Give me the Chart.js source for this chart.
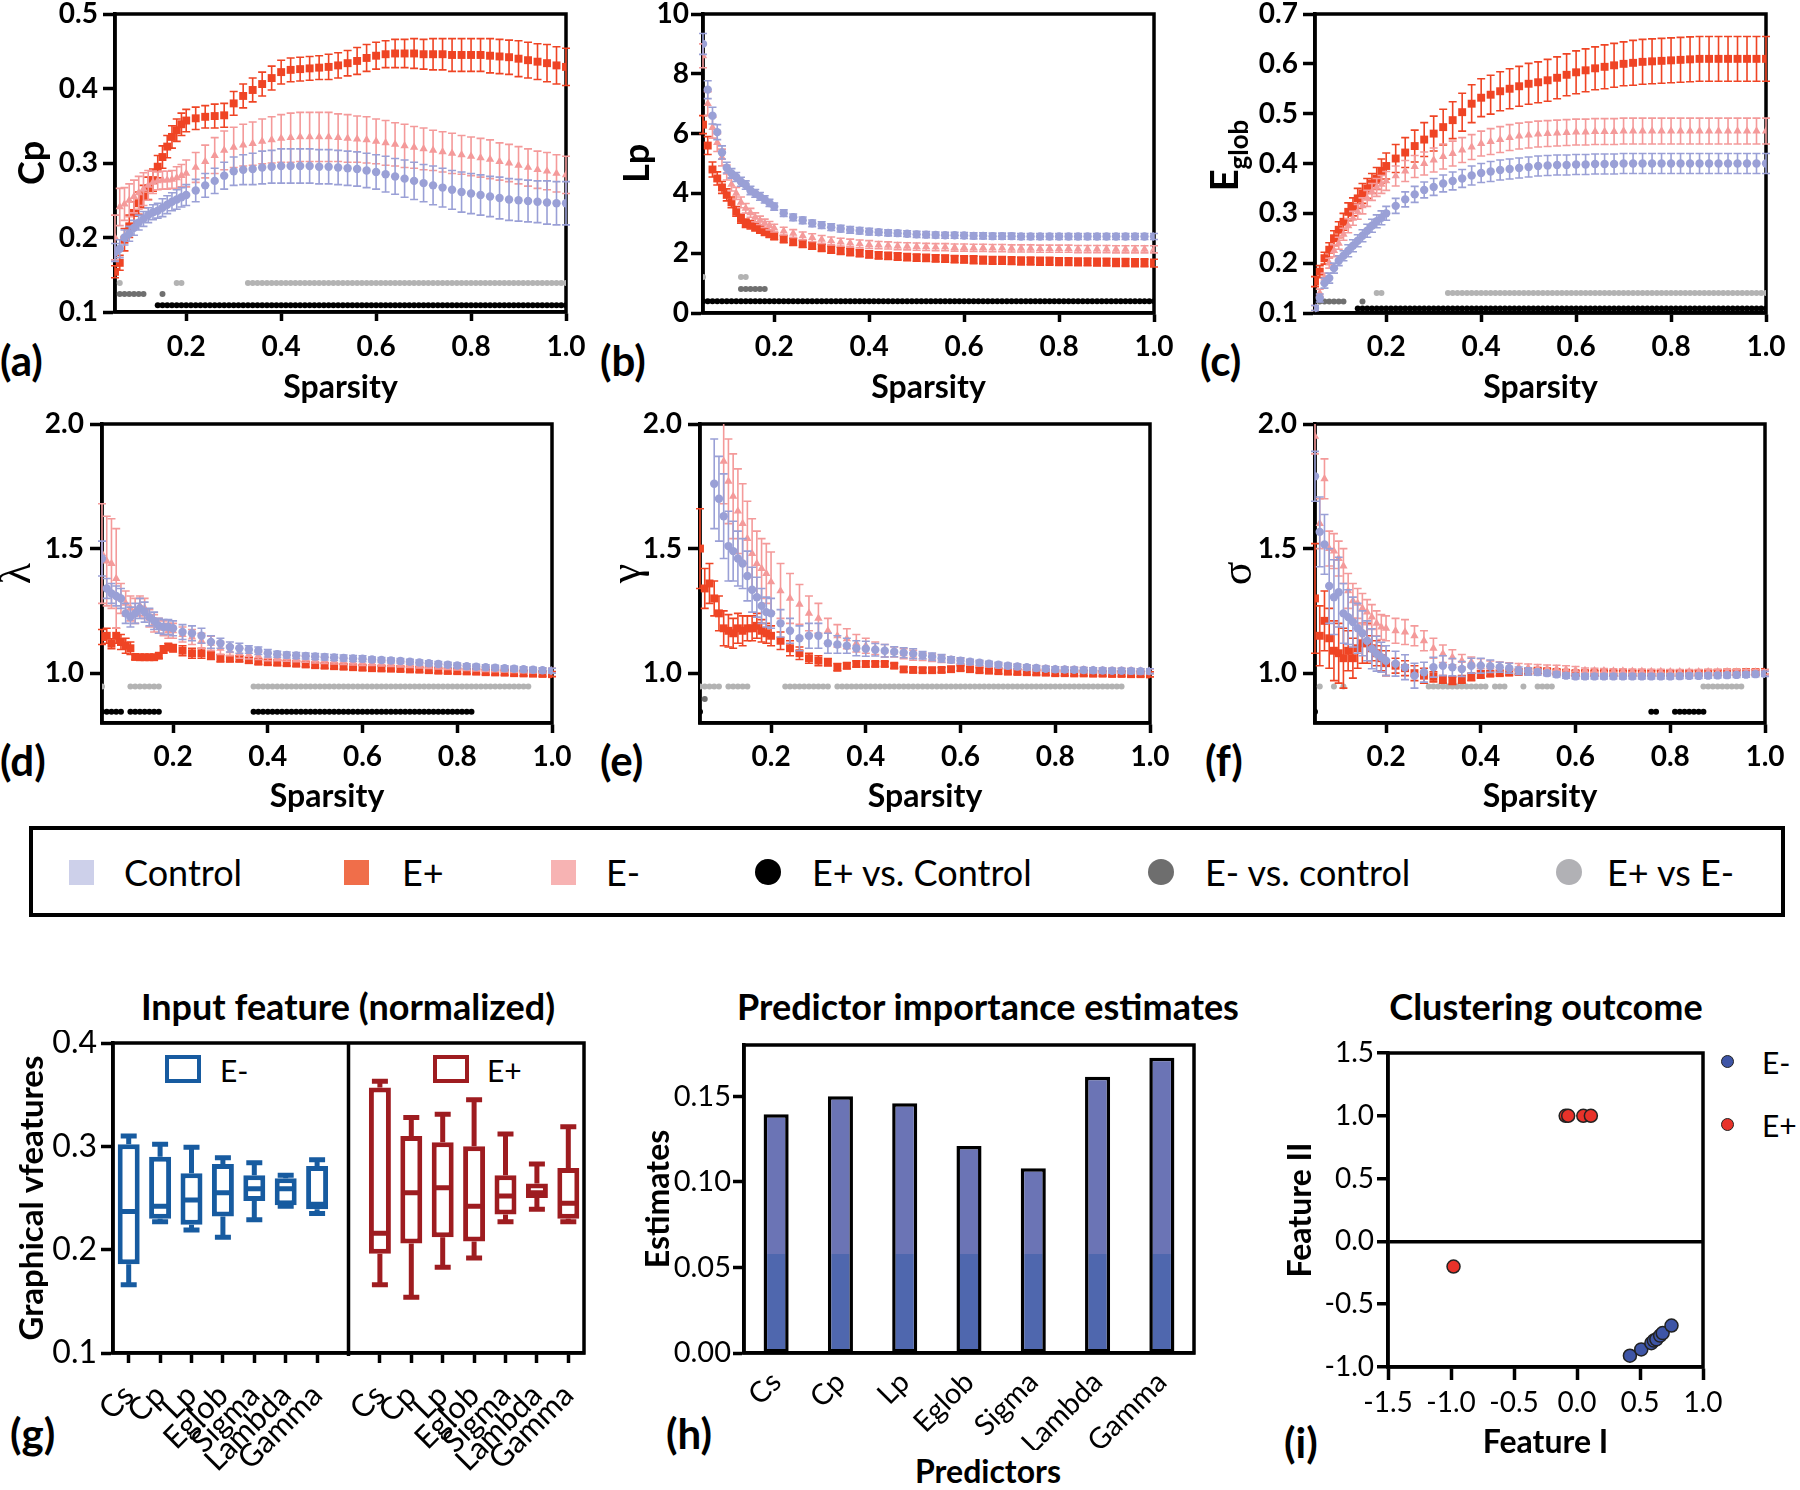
<!DOCTYPE html>
<html>
<head>
<meta charset="utf-8">
<title>Sparsity metrics and classification</title>
<script src="https://cdn.jsdelivr.net/npm/chart.js@4.4.1/dist/chart.umd.min.js"></script>
<style>
  html, body { margin: 0; padding: 0; background: #fff; }
  body { position: relative; width: 1800px; height: 1490px; overflow: hidden; font-family: Lato, "Open Sans", sans-serif; color: #000; }
  canvas { position: absolute; }
  .tag { position: absolute; font-weight: bold; font-size: 42px; line-height: 42px; }
  .ptitle { position: absolute; font-weight: bold; font-size: 36px; line-height: 36px; transform: translateX(-50%); white-space: nowrap; }
  .atitle { position: absolute; font-weight: bold; font-size: 32px; line-height: 32px; transform: translateX(-50%); white-space: nowrap; }
  #legend { position: absolute; left: 29px; top: 826px; width: 1756px; height: 91px; border: 4px solid #000; box-sizing: border-box; }
  .lt { position: absolute; top: 24px; font-size: 36px; line-height: 36px; white-space: nowrap; }
  .sq { position: absolute; top: 30px; width: 25px; height: 25px; }
  .dot { position: absolute; top: 29px; width: 26px; height: 26px; border-radius: 50%; }
  .mini { position: absolute; font-size: 30px; line-height: 30px; white-space: nowrap; }
  .obox { position: absolute; width: 28px; height: 20px; border: 4px solid; }
  .idot { position: absolute; width: 11px; height: 11px; border-radius: 50%; border: 1.5px solid #222; }
</style>
</head>
<body>

<div class="tag" style="left:0px;top:339px">(a)</div>
<div class="tag" style="left:600px;top:339px">(b)</div>
<div class="tag" style="left:1200px;top:339px">(c)</div>
<div class="tag" style="left:0px;top:739px">(d)</div>
<div class="tag" style="left:600px;top:739px">(e)</div>
<div class="tag" style="left:1205px;top:739px">(f)</div>
<div class="tag" style="left:10px;top:1412px">(g)</div>
<div class="tag" style="left:666px;top:1412px">(h)</div>
<div class="tag" style="left:1284px;top:1421px">(i)</div>

<div id="legend">
  <div class="sq" style="left:36px;background:#cdd0ea"></div><div class="lt" style="left:91px">Control</div>
  <div class="sq" style="left:311px;background:#f06e4a"></div><div class="lt" style="left:369px">E+</div>
  <div class="sq" style="left:518px;background:#f7b3b3"></div><div class="lt" style="left:573px">E-</div>
  <div class="dot" style="left:722px;background:#000"></div><div class="lt" style="left:779px">E+ vs. Control</div>
  <div class="dot" style="left:1115px;background:#6e6e6e"></div><div class="lt" style="left:1172px">E- vs. control</div>
  <div class="dot" style="left:1523px;background:#b1b1b5"></div><div class="lt" style="left:1574px">E+ vs E-</div>
</div>

<div class="ptitle" style="left:348px;top:988px">Input feature (normalized)</div>
<div class="ptitle" style="left:988px;top:988px">Predictor importance estimates</div>
<div class="ptitle" style="left:1546px;top:988px">Clustering outcome</div>
<div class="atitle" style="left:988px;top:1455px">Predictors</div>

<div class="obox" style="left:165px;top:1055px;border-color:#175ba0"></div><div class="mini" style="left:220px;top:1055px">E-</div>
<div class="obox" style="left:433px;top:1055px;border-color:#9e1c20"></div><div class="mini" style="left:487px;top:1055px">E+</div>

<div class="idot" style="left:1721px;top:1055px;background:#3e55a6"></div><div class="mini" style="left:1762px;top:1047px">E-</div>
<div class="idot" style="left:1721px;top:1118px;background:#e8322a"></div><div class="mini" style="left:1762px;top:1110px">E+</div>

<script>
// ---------- sparsity grid of the curves (a)-(f) ----------
const SPARSITY = [0.05,0.06,0.07,0.08,0.09,0.10,0.11,0.12,0.13,0.14,0.15,0.16,0.17,0.18,0.19,0.20,
  0.22,0.24,0.26,0.28,0.30,0.32,0.34,0.36,0.38,0.40,
  0.42,0.44,0.46,0.48,0.50,0.52,0.54,0.56,0.58,0.60,
  0.62,0.64,0.66,0.68,0.70,0.72,0.74,0.76,0.78,0.80,
  0.82,0.84,0.86,0.88,0.90,0.92,0.94,0.96,0.98,1.00];

// grid used by the significance rows
const SIG_GRID = [0.05,0.06,0.07,0.08,0.09,0.10,0.11,0.12,0.13,0.14,0.15,0.16,0.17,0.18,0.19,0.20,
  0.21,0.22,0.23,0.24,0.25,0.26,0.27,0.28,0.29,0.30,0.31,0.32,0.33,0.34,0.35,0.36,0.37,0.38,0.39,0.40,
  0.41,0.42,0.43,0.44,0.45,0.46,0.47,0.48,0.49,0.50,0.51,0.52,0.53,0.54,0.55,0.56,0.57,0.58,0.59,0.60,
  0.61,0.62,0.63,0.64,0.65,0.66,0.67,0.68,0.69,0.70,0.71,0.72,0.73,0.74,0.75,0.76,0.77,0.78,0.79,0.80,
  0.81,0.82,0.83,0.84,0.85,0.86,0.87,0.88,0.89,0.90,0.91,0.92,0.93,0.94,0.95,0.96,0.97,0.98,0.99,1.00];

const X_TICKS = [0.2, 0.4, 0.6, 0.8, 1.0];

// ---------- (a) Cp ----------
const CP_CTRL = [0.180,0.185,0.200,0.205,0.213,0.220,0.225,0.230,0.234,0.236,0.240,0.244,0.248,0.251,0.254,0.257,
  0.263,0.270,0.276,0.283,0.289,0.291,0.292,0.294,0.295,0.296,
  0.296,0.296,0.296,0.295,0.295,0.294,0.293,0.292,0.290,0.288,
  0.285,0.282,0.279,0.276,0.273,0.270,0.267,0.264,0.261,0.259,
  0.257,0.255,0.253,0.251,0.250,0.249,0.248,0.247,0.246,0.246];
const CP_CTRL_ERR = [0.012,0.012,0.010,0.010,0.010,0.010,0.010,0.010,0.010,0.010,0.012,0.012,0.012,0.013,0.013,0.014,
  0.015,0.016,0.017,0.018,0.019,0.020,0.021,0.022,0.022,0.023,
  0.023,0.023,0.023,0.023,0.023,0.023,0.023,0.023,0.023,0.023,
  0.024,0.024,0.025,0.025,0.025,0.026,0.026,0.026,0.027,0.027,
  0.027,0.027,0.028,0.028,0.028,0.028,0.028,0.029,0.029,0.029];
const CP_EP = [0.154,0.166,0.197,0.215,0.233,0.246,0.255,0.266,0.277,0.295,0.308,0.322,0.335,0.344,0.352,0.357,
  0.360,0.362,0.363,0.364,0.380,0.390,0.398,0.406,0.414,0.422,
  0.425,0.426,0.427,0.428,0.429,0.431,0.434,0.437,0.441,0.444,
  0.446,0.447,0.447,0.447,0.446,0.446,0.446,0.445,0.445,0.445,
  0.445,0.444,0.443,0.442,0.440,0.438,0.436,0.434,0.431,0.429];
const CP_EP_ERR = [0.008,0.010,0.015,0.015,0.015,0.015,0.015,0.015,0.015,0.015,0.015,0.015,0.015,0.015,0.015,0.015,
  0.015,0.015,0.016,0.016,0.016,0.016,0.016,0.016,0.016,0.016,
  0.016,0.016,0.016,0.016,0.017,0.017,0.017,0.018,0.018,0.018,
  0.018,0.019,0.019,0.020,0.020,0.021,0.021,0.022,0.022,0.022,
  0.022,0.023,0.023,0.023,0.024,0.024,0.024,0.025,0.025,0.025];
const CP_EM = [0.200,0.241,0.245,0.250,0.255,0.260,0.265,0.270,0.274,0.276,0.277,0.277,0.278,0.280,0.283,0.286,
  0.294,0.302,0.310,0.317,0.321,0.324,0.326,0.329,0.331,0.333,
  0.334,0.335,0.335,0.335,0.335,0.334,0.333,0.332,0.331,0.329,
  0.327,0.325,0.323,0.321,0.319,0.317,0.315,0.313,0.311,0.309,
  0.307,0.305,0.302,0.300,0.297,0.294,0.291,0.289,0.286,0.284];
const CP_EM_ERR = [0.030,0.025,0.022,0.022,0.022,0.022,0.022,0.020,0.015,0.012,0.012,0.012,0.012,0.015,0.015,0.018,
  0.020,0.022,0.024,0.026,0.027,0.028,0.029,0.030,0.031,0.032,
  0.033,0.033,0.033,0.033,0.033,0.032,0.032,0.031,0.031,0.030,
  0.030,0.029,0.029,0.028,0.028,0.027,0.027,0.027,0.026,0.026,
  0.026,0.026,0.025,0.025,0.025,0.025,0.025,0.025,0.025,0.025];
const SIG_A = { levels: [0.109, 0.124, 0.139],
  epCtrl: [[0.14, 1.00]], emCtrl: [[0.06, 0.11], [0.15, 0.15]], epEm: [[0.06, 0.06], [0.18, 0.19], [0.33, 1.00]] };

// ---------- (b) Lp ----------
const LP_CTRL = [9.00,7.47,6.60,6.05,5.37,4.86,4.67,4.55,4.39,4.28,4.10,4.00,3.90,3.80,3.68,3.56,
  3.34,3.20,3.10,3.00,2.94,2.87,2.82,2.78,2.75,2.72,
  2.70,2.68,2.67,2.65,2.63,2.62,2.61,2.60,2.60,2.59,
  2.58,2.58,2.57,2.57,2.57,2.56,2.56,2.56,2.56,2.56,
  2.56,2.56,2.56,2.56,2.56,2.56,2.56,2.56,2.56,2.56];
const LP_CTRL_ERR = [0.35,0.30,0.28,0.25,0.22,0.18,0.16,0.15,0.15,0.14,0.14,0.13,0.13,0.12,0.12,0.12,
  0.11,0.11,0.11,0.11,0.11,0.11,0.11,0.11,0.11,0.11,
  0.10,0.10,0.10,0.10,0.10,0.10,0.10,0.10,0.10,0.10,
  0.10,0.10,0.10,0.10,0.10,0.10,0.10,0.10,0.10,0.10,
  0.10,0.10,0.10,0.10,0.10,0.10,0.10,0.10,0.10,0.10];
const LP_EP = [6.30,5.60,4.80,4.50,4.20,3.95,3.70,3.40,3.15,3.00,2.95,2.87,2.80,2.72,2.65,2.57,
  2.47,2.38,2.31,2.25,2.18,2.12,2.08,2.04,2.00,1.96,
  1.93,1.91,1.89,1.87,1.85,1.84,1.83,1.82,1.80,1.79,
  1.78,1.77,1.76,1.76,1.75,1.74,1.74,1.73,1.73,1.72,
  1.72,1.71,1.71,1.70,1.70,1.69,1.69,1.68,1.68,1.67];
const LP_EP_ERR = [0.30,0.30,0.25,0.22,0.20,0.20,0.18,0.16,0.15,0.14,0.14,0.13,0.13,0.13,0.12,0.12,
  0.12,0.12,0.12,0.12,0.12,0.12,0.12,0.12,0.12,0.12,
  0.12,0.12,0.12,0.12,0.12,0.12,0.12,0.12,0.12,0.12,
  0.13,0.13,0.13,0.13,0.13,0.13,0.13,0.13,0.13,0.13,
  0.13,0.13,0.13,0.13,0.13,0.13,0.13,0.13,0.13,0.13];
const LP_EM = [8.60,7.00,6.20,5.70,5.20,4.70,4.30,4.00,3.70,3.50,3.35,3.20,3.10,3.00,2.92,2.84,
  2.74,2.66,2.58,2.52,2.46,2.41,2.37,2.34,2.31,2.29,
  2.27,2.26,2.24,2.23,2.22,2.21,2.20,2.20,2.19,2.19,
  2.18,2.18,2.17,2.17,2.16,2.16,2.16,2.15,2.15,2.15,
  2.15,2.14,2.14,2.14,2.14,2.13,2.13,2.13,2.13,2.13];
const LP_EM_ERR = [0.40,0.40,0.35,0.30,0.28,0.25,0.22,0.20,0.18,0.16,0.15,0.15,0.14,0.14,0.14,0.13,
  0.13,0.13,0.13,0.13,0.13,0.13,0.13,0.13,0.13,0.13,
  0.12,0.12,0.12,0.12,0.12,0.12,0.12,0.12,0.12,0.12,
  0.12,0.12,0.12,0.12,0.12,0.12,0.12,0.12,0.12,0.12,
  0.12,0.12,0.12,0.12,0.12,0.12,0.12,0.12,0.12,0.12];
const SIG_B = { levels: [0.39, 0.8, 1.2],
  epCtrl: [[0.05, 1.00]], emCtrl: [[0.13, 0.18]], epEm: [[0.05, 0.05], [0.13, 0.14]] };

// ---------- (c) Eglob ----------
const EG_CTRL = [0.110,0.130,0.160,0.170,0.190,0.205,0.215,0.225,0.235,0.245,0.255,0.265,0.275,0.284,0.291,0.300,
  0.315,0.328,0.338,0.347,0.353,0.360,0.365,0.370,0.376,0.381,
  0.384,0.387,0.389,0.391,0.393,0.395,0.396,0.397,0.397,0.398,
  0.398,0.399,0.399,0.399,0.400,0.400,0.400,0.400,0.400,0.400,
  0.400,0.400,0.400,0.400,0.400,0.400,0.400,0.400,0.400,0.400];
const EG_CTRL_ERR = [0.005,0.008,0.010,0.010,0.010,0.010,0.010,0.012,0.012,0.012,0.012,0.013,0.013,0.013,0.014,0.014,
  0.015,0.015,0.016,0.016,0.017,0.017,0.018,0.018,0.019,0.019,
  0.020,0.020,0.020,0.020,0.020,0.020,0.020,0.020,0.020,0.020,
  0.020,0.020,0.020,0.020,0.020,0.020,0.020,0.020,0.020,0.020,
  0.020,0.020,0.020,0.020,0.020,0.020,0.020,0.020,0.020,0.020];
const EG_EP = [0.163,0.183,0.210,0.227,0.250,0.267,0.283,0.303,0.313,0.330,0.340,0.350,0.360,0.370,0.385,0.395,
  0.410,0.422,0.435,0.448,0.460,0.473,0.487,0.503,0.520,0.532,
  0.538,0.545,0.550,0.555,0.560,0.563,0.567,0.572,0.578,0.583,
  0.587,0.591,0.594,0.597,0.600,0.602,0.604,0.605,0.606,0.607,
  0.608,0.609,0.610,0.610,0.610,0.610,0.610,0.610,0.610,0.610];
const EG_EP_ERR = [0.010,0.012,0.012,0.014,0.015,0.016,0.017,0.018,0.018,0.020,0.020,0.020,0.020,0.022,0.024,0.026,
  0.028,0.030,0.032,0.034,0.035,0.036,0.037,0.038,0.038,0.038,
  0.039,0.039,0.040,0.040,0.041,0.041,0.042,0.042,0.042,0.043,
  0.043,0.043,0.044,0.044,0.044,0.045,0.045,0.045,0.045,0.045,
  0.045,0.045,0.045,0.045,0.045,0.045,0.045,0.045,0.045,0.045];
const EG_EM = [0.110,0.140,0.170,0.200,0.225,0.240,0.258,0.275,0.290,0.303,0.315,0.330,0.343,0.352,0.358,0.365,
  0.375,0.385,0.394,0.400,0.407,0.414,0.420,0.427,0.433,0.440,
  0.444,0.448,0.452,0.455,0.457,0.459,0.460,0.461,0.462,0.463,
  0.463,0.464,0.464,0.464,0.465,0.465,0.465,0.465,0.465,0.465,
  0.465,0.465,0.465,0.465,0.465,0.465,0.465,0.465,0.465,0.465];
const EG_EM_ERR = [0.005,0.008,0.010,0.010,0.012,0.012,0.012,0.014,0.014,0.015,0.016,0.016,0.017,0.018,0.018,0.019,
  0.020,0.021,0.022,0.023,0.024,0.025,0.025,0.025,0.025,0.025,
  0.026,0.026,0.026,0.026,0.026,0.026,0.026,0.026,0.026,0.026,
  0.026,0.026,0.026,0.026,0.026,0.026,0.026,0.026,0.026,0.026,
  0.026,0.026,0.026,0.026,0.026,0.026,0.026,0.026,0.026,0.026];
const SIG_C = { levels: [0.109, 0.123, 0.140],
  epCtrl: [[0.14, 1.00]], emCtrl: [[0.06, 0.11], [0.15, 0.15]], epEm: [[0.18, 0.19], [0.33, 1.00]] };

// ---------- (d) lambda ----------
const LA_CTRL = [1.46,1.34,1.32,1.31,1.30,1.24,1.225,1.24,1.26,1.245,1.225,1.21,1.19,1.185,1.185,1.18,
  1.165,1.16,1.15,1.125,1.12,1.105,1.10,1.095,1.09,1.08,
  1.076,1.073,1.071,1.069,1.067,1.065,1.063,1.061,1.059,1.058,
  1.055,1.053,1.051,1.049,1.046,1.043,1.040,1.037,1.034,1.031,
  1.028,1.026,1.024,1.022,1.020,1.018,1.016,1.014,1.012,1.010];
const LA_CTRL_ERR = [0.07,0.04,0.04,0.04,0.04,0.04,0.04,0.04,0.04,0.04,0.035,0.035,0.03,0.03,0.03,0.03,
  0.03,0.03,0.03,0.025,0.02,0.02,0.02,0.015,0.015,0.015,
  0.012,0.012,0.012,0.012,0.012,0.012,0.012,0.012,0.012,0.012,
  0.01,0.01,0.01,0.01,0.01,0.01,0.01,0.01,0.01,0.01,
  0.01,0.01,0.01,0.01,0.01,0.01,0.01,0.01,0.01,0.01];
const LA_EP = [1.145,1.15,1.118,1.15,1.125,1.11,1.10,1.065,1.064,1.064,1.064,1.064,1.07,1.095,1.105,1.10,
  1.09,1.08,1.08,1.07,1.06,1.058,1.058,1.052,1.046,1.044,
  1.042,1.040,1.038,1.035,1.032,1.030,1.028,1.026,1.024,1.022,
  1.020,1.019,1.018,1.017,1.015,1.014,1.012,1.010,1.009,1.008,
  1.007,1.006,1.004,1.003,1.002,1.000,0.999,0.998,0.997,0.996];
const LA_EP_ERR = [0.03,0.03,0.02,0.03,0.03,0.03,0.025,0.01,0.01,0.01,0.01,0.01,0.01,0.015,0.015,0.015,
  0.02,0.02,0.02,0.015,0.015,0.012,0.012,0.012,0.01,0.01,
  0.01,0.01,0.01,0.01,0.01,0.01,0.01,0.01,0.01,0.01,
  0.01,0.01,0.01,0.01,0.01,0.01,0.01,0.01,0.01,0.01,
  0.01,0.01,0.01,0.01,0.01,0.01,0.01,0.01,0.01,0.01];
const LA_EM = [1.48,1.45,1.44,1.38,1.30,1.28,1.26,1.25,1.27,1.26,1.22,1.20,1.19,1.18,1.17,1.17,
  1.155,1.145,1.13,1.12,1.10,1.09,1.08,1.075,1.07,1.065,
  1.062,1.060,1.058,1.056,1.053,1.051,1.049,1.047,1.045,1.043,
  1.041,1.039,1.037,1.035,1.033,1.031,1.029,1.027,1.025,1.023,
  1.021,1.019,1.017,1.016,1.015,1.013,1.012,1.011,1.010,1.010];
const LA_EM_ERR = [0.20,0.18,0.18,0.20,0.06,0.05,0.05,0.05,0.04,0.04,0.035,0.035,0.03,0.03,0.03,0.03,
  0.03,0.03,0.03,0.028,0.025,0.02,0.02,0.018,0.015,0.015,
  0.012,0.012,0.012,0.012,0.012,0.012,0.012,0.012,0.012,0.012,
  0.01,0.01,0.01,0.01,0.01,0.01,0.01,0.01,0.01,0.01,
  0.01,0.01,0.01,0.01,0.01,0.01,0.01,0.01,0.01,0.01];
const SIG_D = { levels: [0.845, 0.895, 0.946],
  epCtrl: [[0.05, 0.09], [0.11, 0.17], [0.37, 0.83]], emCtrl: [], epEm: [[0.05, 0.05], [0.11, 0.17], [0.37, 0.95]] };

// ---------- (e) gamma ----------
const GA_CTRL = [null,null,null,1.76,1.70,1.63,1.51,1.49,1.46,1.44,1.39,1.335,1.305,1.27,1.245,1.24,
  1.20,1.17,1.14,1.15,1.15,1.12,1.115,1.11,1.10,1.098,
  1.094,1.09,1.086,1.082,1.078,1.072,1.066,1.06,1.054,1.05,
  1.046,1.042,1.038,1.034,1.030,1.027,1.024,1.021,1.018,1.016,
  1.015,1.014,1.013,1.012,1.011,1.010,1.010,1.009,1.008,1.008];
const GA_CTRL_ERR = [null,null,null,0.18,0.17,0.17,0.14,0.12,0.11,0.10,0.10,0.09,0.08,0.07,0.06,0.06,
  0.055,0.05,0.05,0.05,0.05,0.04,0.035,0.03,0.03,0.03,
  0.025,0.025,0.02,0.02,0.02,0.015,0.015,0.015,0.012,0.012,
  0.01,0.01,0.01,0.01,0.01,0.01,0.01,0.01,0.01,0.01,
  0.01,0.01,0.01,0.01,0.01,0.01,0.01,0.01,0.01,0.01];
const GA_EP = [1.50,1.34,1.36,1.30,1.24,1.18,1.17,1.16,1.18,1.17,1.18,1.18,1.19,1.17,1.16,1.15,
  1.13,1.10,1.08,1.06,1.05,1.044,1.024,1.03,1.037,1.037,
  1.037,1.037,1.03,1.015,1.013,1.012,1.012,1.013,1.016,1.02,
  1.016,1.012,1.01,1.008,1.006,1.005,1.004,1.003,1.002,1.0,
  1.0,0.999,0.999,0.998,0.998,0.997,0.997,0.996,0.996,0.995];
const GA_EP_ERR = [0.16,0.08,0.08,0.07,0.07,0.07,0.065,0.06,0.06,0.06,0.05,0.05,0.05,0.045,0.04,0.04,
  0.035,0.03,0.025,0.02,0.02,0.015,0.015,0.012,0.012,0.012,
  0.01,0.01,0.01,0.01,0.01,0.01,0.01,0.01,0.01,0.01,
  0.01,0.01,0.01,0.01,0.01,0.01,0.01,0.01,0.01,0.01,
  0.01,0.01,0.01,0.01,0.01,0.01,0.01,0.01,0.01,0.01];
const GA_EM = [null,null,null,null,null,1.85,1.77,1.71,1.65,1.60,1.54,1.48,1.44,1.42,1.40,1.366,
  1.33,1.30,1.276,1.24,1.22,1.17,1.15,1.138,1.12,1.11,
  1.10,1.09,1.085,1.078,1.072,1.066,1.062,1.058,1.054,1.048,
  1.043,1.039,1.035,1.031,1.028,1.025,1.022,1.02,1.018,1.016,
  1.015,1.014,1.013,1.012,1.011,1.010,1.010,1.009,1.008,1.008];
const GA_EM_ERR = [null,null,null,null,null,0.17,0.17,0.17,0.17,0.16,0.15,0.14,0.13,0.12,0.12,0.12,
  0.11,0.10,0.08,0.07,0.06,0.05,0.045,0.04,0.035,0.03,
  0.025,0.025,0.02,0.02,0.02,0.015,0.015,0.015,0.012,0.012,
  0.01,0.01,0.01,0.01,0.01,0.01,0.01,0.01,0.01,0.01,
  0.01,0.01,0.01,0.01,0.01,0.01,0.01,0.01,0.01,0.01];
const SIG_E = { levels: [0.845, 0.896, 0.946],
  epCtrl: [[0.05, 0.05]], emCtrl: [[0.06, 0.06]], epEm: [[0.05, 0.09], [0.11, 0.15], [0.23, 0.32], [0.34, 0.94]] };

// ---------- (f) sigma ----------
const SI_CTRL = [1.79,1.567,1.517,1.35,1.305,1.325,1.24,1.225,1.205,1.18,1.16,1.13,1.098,1.078,1.064,1.05,
  1.038,1.024,0.99,1.004,1.024,1.03,1.024,1.017,1.03,1.03,
  1.028,1.024,1.02,1.01,1.007,1.004,1.0,0.995,0.99,0.987,
  0.987,0.987,0.987,0.987,0.987,0.987,0.987,0.987,0.987,0.987,
  0.988,0.989,0.989,0.990,0.991,0.992,0.993,0.994,0.996,0.997];
const SI_CTRL_ERR = [0.10,0.14,0.12,0.15,0.15,0.14,0.12,0.11,0.10,0.10,0.09,0.08,0.08,0.07,0.06,0.06,
  0.05,0.05,0.05,0.04,0.04,0.04,0.035,0.03,0.03,0.03,
  0.025,0.02,0.02,0.015,0.015,0.012,0.01,0.01,0.01,0.01,
  0.01,0.01,0.01,0.01,0.01,0.01,0.01,0.01,0.01,0.01,
  0.01,0.01,0.01,0.01,0.01,0.01,0.01,0.01,0.01,0.01];
const SI_EP = [1.30,1.15,1.21,1.14,1.09,1.08,1.06,1.09,1.06,1.10,1.12,1.12,1.10,1.08,1.06,1.04,
  1.03,1.02,1.00,0.99,0.985,0.975,0.97,0.975,0.985,0.995,
  0.998,1.0,1.002,1.005,1.007,1.01,1.008,1.005,1.002,1.0,
  1.0,1.0,1.0,1.0,1.0,1.0,1.0,1.0,1.0,1.0,
  1.0,1.0,1.001,1.002,1.002,1.003,1.003,1.004,1.004,1.005];
const SI_EP_ERR = [0.22,0.12,0.12,0.12,0.12,0.12,0.12,0.08,0.08,0.08,0.08,0.08,0.05,0.05,0.05,0.05,
  0.03,0.03,0.03,0.03,0.02,0.015,0.015,0.015,0.015,0.015,
  0.01,0.01,0.01,0.01,0.01,0.01,0.01,0.01,0.01,0.01,
  0.01,0.01,0.01,0.01,0.01,0.01,0.01,0.01,0.01,0.01,
  0.01,0.01,0.01,0.01,0.01,0.01,0.01,0.01,0.01,0.01];
const SI_EM = [1.95,1.60,1.78,1.50,1.49,1.46,1.43,1.33,1.29,1.28,1.26,1.245,1.225,1.20,1.185,1.18,
  1.17,1.165,1.15,1.13,1.10,1.078,1.064,1.05,1.045,1.038,
  1.034,1.03,1.027,1.024,1.022,1.02,1.018,1.017,1.015,1.012,
  1.011,1.01,1.009,1.008,1.008,1.007,1.007,1.006,1.006,1.005,
  1.005,1.005,1.005,1.005,1.005,1.005,1.004,1.004,1.004,1.004];
const SI_EM_ERR = [0.07,0.10,0.08,0.07,0.07,0.07,0.07,0.07,0.07,0.06,0.06,0.05,0.05,0.05,0.05,0.05,
  0.05,0.05,0.04,0.04,0.04,0.035,0.03,0.025,0.02,0.02,
  0.015,0.015,0.015,0.015,0.015,0.015,0.015,0.015,0.015,0.015,
  0.01,0.01,0.01,0.01,0.01,0.01,0.01,0.01,0.01,0.01,
  0.01,0.01,0.01,0.01,0.01,0.01,0.01,0.01,0.01,0.01];
const SIG_F = { levels: [0.845, 0.896, 0.946],
  epCtrl: [[0.05, 0.05], [0.76, 0.77], [0.81, 0.87]], emCtrl: [],
  epEm: [[0.06, 0.06], [0.09, 0.09], [0.11, 0.11], [0.29, 0.41], [0.43, 0.45], [0.49, 0.49], [0.52, 0.55], [0.87, 0.95]] };

// ---------- (g) box plots ----------
const FEATURES = ['Cs', 'Cp', 'Lp', 'Eglob', 'Sigma', 'Lambda', 'Gamma'];
const EM_MIN = [0.166, 0.227, 0.219, 0.212, 0.229, 0.242, 0.235];
const EM_Q1  = [0.186, 0.230, 0.224, 0.232, 0.247, 0.243, 0.239];
const EM_MED = [0.237, 0.242, 0.248, 0.255, 0.259, 0.259, 0.244];
const EM_Q3  = [0.302, 0.290, 0.274, 0.283, 0.272, 0.269, 0.281];
const EM_MAX = [0.310, 0.302, 0.299, 0.289, 0.284, 0.272, 0.287];
const EP_MIN = [0.166, 0.154, 0.183, 0.192, 0.227, 0.239, 0.227];
const EP_Q1  = [0.196, 0.206, 0.212, 0.208, 0.234, 0.250, 0.230];
const EP_MED = [0.216, 0.255, 0.260, 0.242, 0.252, 0.255, 0.245];
const EP_Q3  = [0.357, 0.310, 0.304, 0.300, 0.272, 0.264, 0.279];
const EP_MAX = [0.363, 0.328, 0.331, 0.345, 0.312, 0.283, 0.319];
const G_TICKS = [0.1, 0.2, 0.3, 0.4];

// ---------- (h) predictor importance ----------
const PREDICTORS = ['Cs', 'Cp', 'Lp', 'Eglob', 'Sigma', 'Lambda', 'Gamma'];
const IMPORTANCE = [0.1396, 0.150, 0.146, 0.121, 0.108, 0.1615, 0.1725];
const H_TICKS = [0, 0.05, 0.10, 0.15];

// ---------- (i) clustering ----------
const CLUSTER_EM_X = [0.42, 0.51, 0.59, 0.61, 0.63, 0.66, 0.68, 0.75];
const CLUSTER_EM_Y = [-0.91, -0.86, -0.81, -0.79, -0.78, -0.75, -0.73, -0.67];
const CLUSTER_EP_X = [-0.09, -0.07, 0.05, 0.11, -0.98];
const CLUSTER_EP_Y = [1.0, 1.0, 1.0, 1.0, -0.20];
const I_X_TICKS = [-1.5, -1.0, -0.5, 0, 0.5, 1.0];
const I_Y_TICKS = [-1.0, -0.5, 0, 0.5, 1.0, 1.5];

// ---------- styles ----------
const FONT = 'Lato, "Open Sans", sans-serif';
const GREEK = '"Liberation Serif", "DejaVu Serif", serif';
const CTRL_COLOR = '#9aa0d6';
const EP_COLOR = '#ef4424';
const EM_COLOR = '#f49a9a';
const SIG_COLORS = ['#000000', '#6f6f6f', '#b3b3b3'];
const BLUE = '#175ba0';
const DARKRED = '#9e1c20';
const LINE = 3.5;

Chart.defaults.font.family = FONT;
Chart.defaults.color = '#000';

function canvasAt(left, top, width, height) {
  const c = document.createElement('canvas');
  c.width = width;
  c.height = height;
  c.style.left = left + 'px';
  c.style.top = top + 'px';
  c.style.width = width + 'px';
  c.style.height = height + 'px';
  document.body.appendChild(c);
  return c;
}

function pointsFrom(values, errors) {
  return SPARSITY.map((x, i) => ({ x: x, y: values[i], e: errors[i] })).filter(p => p.y !== null);
}

function sigFrom(ranges, level) {
  return SIG_GRID.filter(x => ranges.some(r => x > r[0] - 0.001 && x < r[1] + 0.001))
    .map(x => ({ x: x, y: level }));
}

const framePlugin = {
  id: 'frame',
  beforeDatasetsDraw(chart) {
    const { ctx, chartArea: a } = chart;
    ctx.save();
    ctx.strokeStyle = '#000';
    ctx.lineWidth = LINE;
    ctx.strokeRect(a.left, a.top, a.right - a.left, a.bottom - a.top);
    ctx.restore();
  }
};

const errorBarPlugin = {
  id: 'errorBars',
  beforeDatasetDraw(chart, args) {
    const ds = chart.data.datasets[args.index];
    if (!ds.withErrors) return;
    const { ctx, chartArea: a } = chart;
    const y = chart.scales.y;
    ctx.save();
    ctx.beginPath();
    ctx.rect(a.left - 6, a.top, a.right - a.left + 12, a.bottom - a.top);
    ctx.clip();
    ctx.strokeStyle = ds.borderColor;
    ctx.lineWidth = 1.6;
    args.meta.data.forEach((pt, i) => {
      const raw = ds.data[i];
      if (raw.e == null) return;
      const top = y.getPixelForValue(raw.y + raw.e);
      const bot = y.getPixelForValue(raw.y - raw.e);
      ctx.beginPath();
      ctx.moveTo(pt.x, top); ctx.lineTo(pt.x, bot);
      ctx.moveTo(pt.x - 4, top); ctx.lineTo(pt.x + 4, top);
      ctx.moveTo(pt.x - 4, bot); ctx.lineTo(pt.x + 4, bot);
      ctx.stroke();
    });
    ctx.restore();
  }
};

const eglobTitle = {
  id: 'eglobTitle',
  afterDraw(chart) {
    const { ctx, chartArea: a } = chart;
    ctx.save();
    ctx.fillStyle = '#000';
    ctx.textBaseline = 'alphabetic';
    ctx.textAlign = 'left';
    ctx.font = 'bold 38px ' + FONT;
    const ew = ctx.measureText('E').width;
    ctx.font = 'bold 26px ' + FONT;
    const gw = ctx.measureText('glob').width;
    const cy = (a.top + a.bottom) / 2 - 8;
    ctx.translate(28, cy + (ew + gw) / 2);
    ctx.rotate(-Math.PI / 2);
    ctx.font = 'bold 38px ' + FONT;
    ctx.fillText('E', 0, 0);
    ctx.font = 'bold 26px ' + FONT;
    ctx.fillText('glob', ew, 10);
    ctx.restore();
  }
};

function markerSet(values, errors, color, style, radius) {
  return {
    data: pointsFrom(values, errors),
    withErrors: true,
    pointStyle: style,
    pointRadius: radius,
    backgroundColor: color,
    borderColor: color,
    borderWidth: 0
  };
}

function sparsityChart(spec) {
  const [L, R, T, B] = spec.plot;
  const [left, top] = spec.origin;
  const cv = canvasAt(left, top, R - left + 32, spec.bottom - top);
  const s = spec.series;
  const datasets = [
    markerSet(s[0], s[1], CTRL_COLOR, 'circle', 4.2),
    markerSet(s[2], s[3], EM_COLOR, 'triangle', 4.8),
    markerSet(s[4], s[5], EP_COLOR, 'rect', 5.6)
  ];
  const sig = spec.sig;
  [sig.epCtrl, sig.emCtrl, sig.epEm].forEach((ranges, k) => {
    datasets.push({
      data: sigFrom(ranges, sig.levels[k]),
      pointStyle: 'circle', pointRadius: 3,
      backgroundColor: SIG_COLORS[k], borderColor: SIG_COLORS[k], borderWidth: 0
    });
  });
  const plugins = [framePlugin, errorBarPlugin];
  if (spec.customTitle) plugins.push(spec.customTitle);
  new Chart(cv, {
    type: 'scatter',
    data: { datasets: datasets },
    plugins: plugins,
    options: {
      responsive: false, animation: false, devicePixelRatio: 1,
      layout: { padding: { left: 0, top: T - top, right: 32, bottom: 0 } },
      plugins: { legend: { display: false }, tooltip: { enabled: false } },
      scales: {
        x: {
          type: 'linear', min: 0.05, max: 1.0,
          afterBuildTicks: sc => { sc.ticks = X_TICKS.map(v => ({ value: v })); },
          afterFit: sc => { sc.height = spec.bottom - B; sc.paddingLeft = 0; sc.paddingRight = 0; },
          ticks: { autoSkip: false, maxRotation: 0, padding: spec.xPad, font: { weight: 'bold', size: 28 }, callback: v => v.toFixed(1) },
          grid: { drawOnChartArea: false, tickLength: spec.xTick, tickWidth: LINE, tickColor: '#000' },
          border: { display: true, width: LINE, color: '#000' },
          title: { display: true, text: 'Sparsity', font: { weight: 'bold', size: 32 }, padding: { top: 0, bottom: 0 } }
        },
        y: {
          type: 'linear', min: spec.range[0], max: spec.range[1],
          afterBuildTicks: sc => { sc.ticks = spec.yTicks.map(v => ({ value: v })); },
          afterFit: sc => { sc.width = L - left; sc.paddingTop = 0; sc.paddingBottom = 0; },
          ticks: { autoSkip: false, padding: spec.yPad, font: { weight: 'bold', size: 28 }, callback: v => v.toFixed(spec.dec) },
          grid: { drawOnChartArea: false, tickLength: 12, tickWidth: LINE, tickColor: '#000' },
          border: { display: true, width: LINE, color: '#000' },
          title: { display: !spec.customTitle, text: spec.title, font: spec.titleFont, padding: { top: spec.titlePad, bottom: 0 } }
        }
      }
    }
  });
}

const ROW2_TICKS = [1.0, 1.5, 2.0];

sparsityChart({ origin: [0, 0], plot: [115, 566, 14, 312], bottom: 407, range: [0.1, 0.5], yTicks: [0.1, 0.2, 0.3, 0.4, 0.5], dec: 1,
  title: 'Cp', titleFont: { weight: 'bold', size: 36 }, titlePad: 11, yPad: 5, xPad: 9, xTick: 9,
  series: [CP_CTRL, CP_CTRL_ERR, CP_EM, CP_EM_ERR, CP_EP, CP_EP_ERR], sig: SIG_A });
sparsityChart({ origin: [600, 0], plot: [703, 1154, 14, 313], bottom: 407, range: [0, 10], yTicks: [0, 2, 4, 6, 8, 10], dec: 0,
  title: 'Lp', titleFont: { weight: 'bold', size: 36 }, titlePad: 16, yPad: 2, xPad: 8, xTick: 9,
  series: [LP_CTRL, LP_CTRL_ERR, LP_EM, LP_EM_ERR, LP_EP, LP_EP_ERR], sig: SIG_B });
sparsityChart({ origin: [1210, 0], plot: [1315, 1766, 14, 313], bottom: 407, range: [0.1, 0.7], yTicks: [0.1, 0.2, 0.3, 0.4, 0.5, 0.6, 0.7], dec: 1,
  title: 'Eglob', customTitle: eglobTitle, yPad: 5, xPad: 8, xTick: 9,
  series: [EG_CTRL, EG_CTRL_ERR, EG_EM, EG_EM_ERR, EG_EP, EG_EP_ERR], sig: SIG_C });
sparsityChart({ origin: [0, 400], plot: [102, 552, 424, 723], bottom: 816, range: [0.8, 2.0], yTicks: ROW2_TICKS, dec: 1,
  title: 'λ', titleFont: { family: GREEK, size: 44, lineHeight: 0.7 }, titlePad: 3, yPad: 6, xPad: 7, xTick: 10,
  series: [LA_CTRL, LA_CTRL_ERR, LA_EM, LA_EM_ERR, LA_EP, LA_EP_ERR], sig: SIG_D });
sparsityChart({ origin: [600, 400], plot: [700, 1150, 424, 723], bottom: 816, range: [0.8, 2.0], yTicks: ROW2_TICKS, dec: 1,
  title: 'γ', titleFont: { family: GREEK, size: 44, lineHeight: 1 }, titlePad: 6, yPad: 6, xPad: 7, xTick: 10,
  series: [GA_CTRL, GA_CTRL_ERR, GA_EM, GA_EM_ERR, GA_EP, GA_EP_ERR], sig: SIG_E });
sparsityChart({ origin: [1210, 400], plot: [1315, 1765, 424, 723], bottom: 816, range: [0.8, 2.0], yTicks: ROW2_TICKS, dec: 1,
  title: 'σ', titleFont: { family: GREEK, size: 44, lineHeight: 1 }, titlePad: 7, yPad: 6, xPad: 7, xTick: 10,
  series: [SI_CTRL, SI_CTRL_ERR, SI_EM, SI_EM_ERR, SI_EP, SI_EP_ERR], sig: SIG_F });

// ---------- (g) ----------
const GAP = 7; // index of the empty slot between the two groups
const boxLabels = FEATURES.concat([''], FEATURES);
const noBoxes = FEATURES.map(() => null).concat([null]);
const emBoxes = FEATURES.map((_, i) => [EM_Q1[i], EM_Q3[i]]).concat(noBoxes);
const epBoxes = noBoxes.concat(FEATURES.map((_, i) => [EP_Q1[i], EP_Q3[i]]));
const emStats = FEATURES.map((_, i) => ({ min: EM_MIN[i], med: EM_MED[i], max: EM_MAX[i] })).concat(noBoxes);
const epStats = noBoxes.concat(FEATURES.map((_, i) => ({ min: EP_MIN[i], med: EP_MED[i], max: EP_MAX[i] })));

const whiskerPlugin = {
  id: 'whiskers',
  afterDatasetsDraw(chart) {
    const { ctx, chartArea: a } = chart;
    const y = chart.scales.y, x = chart.scales.x;
    ctx.save();
    ctx.lineWidth = LINE;
    ctx.strokeStyle = '#000';
    const sx = x.getPixelForValue(GAP);
    ctx.beginPath(); ctx.moveTo(sx, a.top); ctx.lineTo(sx, a.bottom + 3); ctx.stroke();
    ctx.lineWidth = 5;
    chart.data.datasets.forEach((ds, di) => {
      chart.getDatasetMeta(di).data.forEach((bar, i) => {
        const st = ds.stats[i];
        if (!st) return;
        const [q1, q3] = ds.data[i];
        const half = bar.width / 2;
        ctx.strokeStyle = ds.borderColor;
        ctx.beginPath();
        ctx.moveTo(bar.x, y.getPixelForValue(q3)); ctx.lineTo(bar.x, y.getPixelForValue(st.max));
        ctx.moveTo(bar.x, y.getPixelForValue(q1)); ctx.lineTo(bar.x, y.getPixelForValue(st.min));
        ctx.moveTo(bar.x - 8, y.getPixelForValue(st.max)); ctx.lineTo(bar.x + 8, y.getPixelForValue(st.max));
        ctx.moveTo(bar.x - 8, y.getPixelForValue(st.min)); ctx.lineTo(bar.x + 8, y.getPixelForValue(st.min));
        ctx.moveTo(bar.x - half + 2, y.getPixelForValue(st.med)); ctx.lineTo(bar.x + half - 2, y.getPixelForValue(st.med));
        ctx.stroke();
      });
    });
    ctx.restore();
  }
};

function boxSet(data, stats, color) {
  return { data: data, stats: stats, borderColor: color, backgroundColor: '#fff', borderWidth: 5,
    borderSkipped: false, grouped: false, barPercentage: 0.7, categoryPercentage: 1 };
}

new Chart(canvasAt(0, 1030, 604, 460), {
  type: 'bar',
  data: { labels: boxLabels, datasets: [boxSet(emBoxes, emStats, BLUE), boxSet(epBoxes, epStats, DARKRED)] },
  plugins: [framePlugin, whiskerPlugin],
  options: {
    responsive: false, animation: false, devicePixelRatio: 1,
    layout: { padding: { left: 0, top: 13, right: 20, bottom: 0 } },
    plugins: { legend: { display: false }, tooltip: { enabled: false } },
    scales: {
      x: {
        afterFit: sc => { sc.height = 137; sc.paddingLeft = 0; sc.paddingRight = 0; },
        ticks: { autoSkip: false, minRotation: 45, maxRotation: 45, padding: 14, font: { size: 31 } },
        grid: { offset: false, drawOnChartArea: false, tickLength: 10, tickWidth: LINE,
          tickColor: c => (c.index === GAP ? 'rgba(0,0,0,0)' : '#000') },
        border: { display: true, width: LINE, color: '#000' }
      },
      y: {
        type: 'linear', min: 0.1, max: 0.4,
        afterBuildTicks: sc => { sc.ticks = G_TICKS.map(v => ({ value: v })); },
        afterFit: sc => { sc.width = 113; sc.paddingTop = 0; sc.paddingBottom = 0; },
        ticks: { padding: 4, font: { size: 32 }, callback: v => v.toFixed(1) },
        grid: { drawOnChartArea: false, tickLength: 12, tickWidth: LINE, tickColor: '#000' },
        border: { display: true, width: LINE, color: '#000' },
        title: { display: true, text: 'Graphical vfeatures', font: { weight: 'bold', size: 33 }, padding: { top: 13, bottom: 0 } }
      }
    }
  }
});

// ---------- (h) ----------
const BAR_SPLIT = 0.058;
function barFill(context) {
  const chart = context.chart;
  const a = chart.chartArea;
  if (!a) return '#5d6db2';
  const split = chart.scales.y.getPixelForValue(BAR_SPLIT);
  const f = (split - a.top) / (a.bottom - a.top);
  const g = chart.ctx.createLinearGradient(0, a.top, 0, a.bottom);
  g.addColorStop(0, '#6b74b5');
  g.addColorStop(f, '#6b74b5');
  g.addColorStop(f, '#4f67ae');
  g.addColorStop(1, '#4f67ae');
  return g;
}

new Chart(canvasAt(620, 1030, 614, 420), {
  type: 'bar',
  data: { labels: PREDICTORS, datasets: [{ data: IMPORTANCE, backgroundColor: barFill, borderColor: '#000', borderWidth: LINE,
    borderSkipped: false, barPercentage: 0.39, categoryPercentage: 1 }] },
  plugins: [framePlugin],
  options: {
    responsive: false, animation: false, devicePixelRatio: 1,
    layout: { padding: { left: 0, top: 15, right: 40, bottom: 0 } },
    plugins: { legend: { display: false }, tooltip: { enabled: false } },
    scales: {
      x: {
        afterFit: sc => { sc.height = 97; sc.paddingLeft = 0; sc.paddingRight = 0; },
        ticks: { autoSkip: false, minRotation: 45, maxRotation: 45, padding: 12, font: { size: 29 } },
        grid: { drawOnChartArea: false, drawTicks: false },
        border: { display: true, width: LINE, color: '#000' }
      },
      y: {
        type: 'linear', min: 0, max: 0.18,
        afterBuildTicks: sc => { sc.ticks = H_TICKS.map(v => ({ value: v })); },
        afterFit: sc => { sc.width = 124; sc.paddingTop = 0; sc.paddingBottom = 0; },
        ticks: { padding: 2, font: { size: 29 }, callback: v => v.toFixed(2) },
        grid: { drawOnChartArea: false, tickLength: 11, tickWidth: LINE, tickColor: '#000' },
        border: { display: true, width: LINE, color: '#000' },
        title: { display: true, text: 'Estimates', font: { weight: 'bold', size: 32 }, padding: { top: 19, bottom: 0 } }
      }
    }
  }
});

// ---------- (i) ----------
function pairs(xs, ys) { return xs.map((x, i) => ({ x: x, y: ys[i] })); }

new Chart(canvasAt(1230, 1030, 493, 460), {
  type: 'scatter',
  data: { datasets: [
    { data: pairs(CLUSTER_EM_X, CLUSTER_EM_Y), pointRadius: 6.5, backgroundColor: '#3e55a6', borderColor: '#222', borderWidth: 1.5 },
    { data: pairs(CLUSTER_EP_X, CLUSTER_EP_Y), pointRadius: 6.5, backgroundColor: '#e8322a', borderColor: '#222', borderWidth: 1.5 }
  ] },
  plugins: [framePlugin],
  options: {
    responsive: false, animation: false, devicePixelRatio: 1,
    layout: { padding: { left: 0, top: 23, right: 20, bottom: 0 } },
    plugins: { legend: { display: false }, tooltip: { enabled: false } },
    scales: {
      x: {
        type: 'linear', min: -1.5, max: 1.0,
        afterBuildTicks: sc => { sc.ticks = I_X_TICKS.map(v => ({ value: v })); },
        afterFit: sc => { sc.height = 123; sc.paddingLeft = 0; sc.paddingRight = 0; },
        ticks: { autoSkip: false, maxRotation: 0, padding: 6, font: { size: 28 }, callback: v => v.toFixed(1) },
        grid: { drawOnChartArea: false, tickLength: 13, tickWidth: LINE, tickColor: '#000' },
        border: { display: true, width: LINE, color: '#000' },
        title: { display: true, text: 'Feature I', font: { weight: 'bold', size: 32 }, padding: { top: 0, bottom: 28 } }
      },
      y: {
        type: 'linear', min: -1.0, max: 1.5,
        afterBuildTicks: sc => { sc.ticks = I_Y_TICKS.map(v => ({ value: v })); },
        afterFit: sc => { sc.width = 158; sc.paddingTop = 0; sc.paddingBottom = 0; },
        ticks: { autoSkip: false, padding: 3, font: { size: 28 }, callback: v => v.toFixed(1) },
        grid: { drawOnChartArea: true, lineWidth: LINE, color: c => (c.tick && c.tick.value === 0 ? '#000' : 'rgba(0,0,0,0)'),
          tickLength: 11, tickWidth: LINE, tickColor: '#000' },
        border: { display: true, width: LINE, color: '#000' },
        title: { display: true, text: 'Feature II', font: { weight: 'bold', size: 32 }, padding: { top: 51, bottom: 0 } }
      }
    }
  }
});
</script>
</body>
</html>
